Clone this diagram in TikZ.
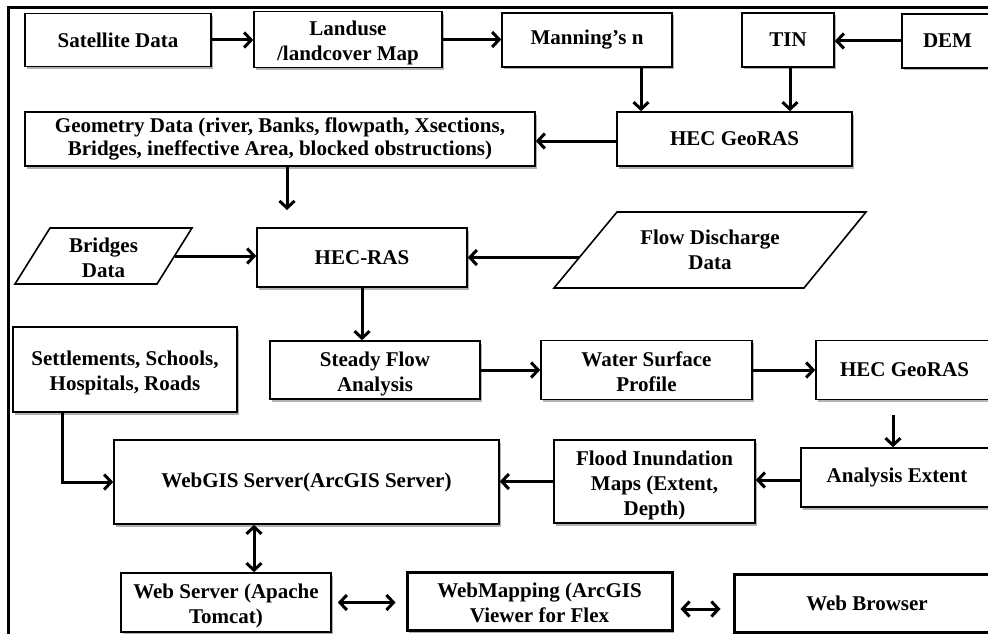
\documentclass[tikz,border=0pt]{standalone}
\usepackage{fontspec}
\setmainfont{Liberation Serif}
\usetikzlibrary{arrows.meta,shadows}
\newcommand\topst{\rule{0pt}{22pt}}
\newcommand\botst{\rule[-5pt]{0pt}{5pt}}
\begin{document}
\begin{tikzpicture}[x=1pt,y=-1pt,
  lbl/.style={align=center, font=\fontsize{21}{25}\selectfont\bfseries},
  box/.style={lbl, draw, line width=1.6pt, fill=white, inner sep=2pt,
    drop shadow={shadow xshift=1.5pt, shadow yshift=-2.5pt, fill=black, opacity=0.3}},
  thickbox/.style={box, line width=3pt},
  para/.style={draw, line width=1.6pt, fill=white, line join=miter},
  arr/.style={line width=3pt, -{Straight Barb[length=7pt,width=15pt]}},
  darr/.style={line width=3pt, {Straight Barb[length=7pt,width=15pt]}-{Straight Barb[length=7pt,width=15pt]}}
]
\useasboundingbox (0,0) rectangle (988,634);
\clip (0,0) rectangle (988,634);
% outer frame
\draw[line width=3pt] (8,700) -- (8,8) -- (1100,8);

% row 1
\node[box, minimum width=186, minimum height=53] (sat)  at (118,40) {Satellite Data};
\node[box, minimum width=188, minimum height=53] (land) at (348,39.5) {\topst Landuse\\/landcover Map\botst};
\node[box, minimum width=170, minimum height=54] (mann) at (587,40) {Manning’s n};
\node[box, minimum width=92, minimum height=54]  (tin)  at (788,40) {TIN};
\node[box, minimum width=91, minimum height=54]  (dem)  at (947.5,41) {DEM};

% row 2
\node[box, minimum width=235, minimum height=54] (geo1) at (734.5,139) {HEC GeoRAS};
\node[box, minimum width=510, minimum height=54, font=\fontsize{21}{23}\selectfont\bfseries] (geom) at (280,139) {Geometry Data (river, Banks, flowpath, Xsections,\\Bridges, ineffective Area, blocked obstructions)};

% row 3
\draw[para] (50,228) -- (192,228) -- (157,284) -- (15,284) -- cycle;
\node[lbl] (bridges) at (103.5,256) {\topst Bridges\\Data\botst};
\coordinate (brR) at (174.5,256);
\node[box, minimum width=210, minimum height=59] (hecras) at (362,257.5) {HEC-RAS};
\draw[para] (617,212) -- (866,212) -- (804,288) -- (554,288) -- cycle;
\node[lbl] (flow) at (710,250) {Flow Discharge\\Data};
\coordinate (flowL) at (579,257.5);

% row 4
\node[box, minimum width=224, minimum height=85] (settl)  at (125,369.5) {\topst Settlements, Schools,\\Hospitals, Roads\botst};
\node[box, minimum width=210, minimum height=58] (steady) at (375,370) {\topst Steady Flow\\Analysis\botst};
\node[box, minimum width=211, minimum height=59] (water)  at (646.5,370) {\topst Water Surface\\Profile\botst};
\node[box, minimum width=177, minimum height=59] (geo2)   at (904.5,370) {HEC GeoRAS};

% row 5
\node[box, minimum width=385, minimum height=84] (webgis) at (306.5,482) {WebGIS Server(ArcGIS Server)};
\node[box, minimum width=201, minimum height=83] (flood)  at (654.5,481.5) {\topst Flood Inundation\\Maps (Extent,\\Depth)\botst};
\node[box, minimum width=192, minimum height=59] (anal)   at (897,477.5) {Analysis Extent};

% row 6
\node[box, minimum width=210, minimum height=59] (websrv)  at (226,602.5) {\topst Web Server (Apache\\Tomcat)\botst};
\node[thickbox, minimum width=265, minimum height=58] (webmap) at (539.5,601) {\topst WebMapping (ArcGIS\\Viewer for Flex\botst};
\node[thickbox, minimum width=266, minimum height=58] (browser) at (867,603) {Web Browser};

% connectors
\draw[arr] (sat.east) -- (sat.east -| land.west);
\draw[arr] (land.east) -- (land.east -| mann.west);
\draw[arr] (dem.west) -- (dem.west -| tin.east);
\draw[arr] ([xshift=54pt]mann.south) -- ([xshift=54pt]mann.south |- geo1.north);
\draw[arr] ([xshift=2pt]tin.south) -- ([xshift=2pt]tin.south |- geo1.north);
\draw[arr] ([yshift=-2pt]geo1.west) -- ([yshift=-2pt]geo1.west -| geom.east);
\coordinate (geomend) at (287,210);
\draw[arr] (geomend |- geom.south) -- (geomend);
\draw[arr] (brR) -- (brR -| hecras.west);
\draw[arr] (flowL) -- (flowL -| hecras.east);
\draw[arr] (hecras.south) -- (hecras.south |- steady.north);
\draw[arr] (steady.east) -- (steady.east -| water.west);
\draw[arr] (water.east) -- (water.east -| geo2.west);
\coordinate (g2a) at (893,415);
\draw[arr] (g2a) -- (g2a |- anal.north);
\draw[arr] ([yshift=-2.5pt]anal.west) -- ([yshift=-2.5pt]anal.west -| flood.east);
\draw[arr] (flood.west) -- (flood.west -| webgis.east);
\draw[arr] ([xshift=-63pt]settl.south) |- (webgis.west);
\draw[darr] ([xshift=-52.5pt]webgis.south) -- ([xshift=-52.5pt]webgis.south |- websrv.north);
\draw[darr, shorten <=6pt, shorten >=10pt] (websrv.east) -- (websrv.east -| webmap.west);
\draw[darr, shorten <=7pt, shorten >=12pt] ([yshift=-8pt]webmap.east) -- ([yshift=-8pt]webmap.east -| browser.west);
\end{tikzpicture}
\end{document}
